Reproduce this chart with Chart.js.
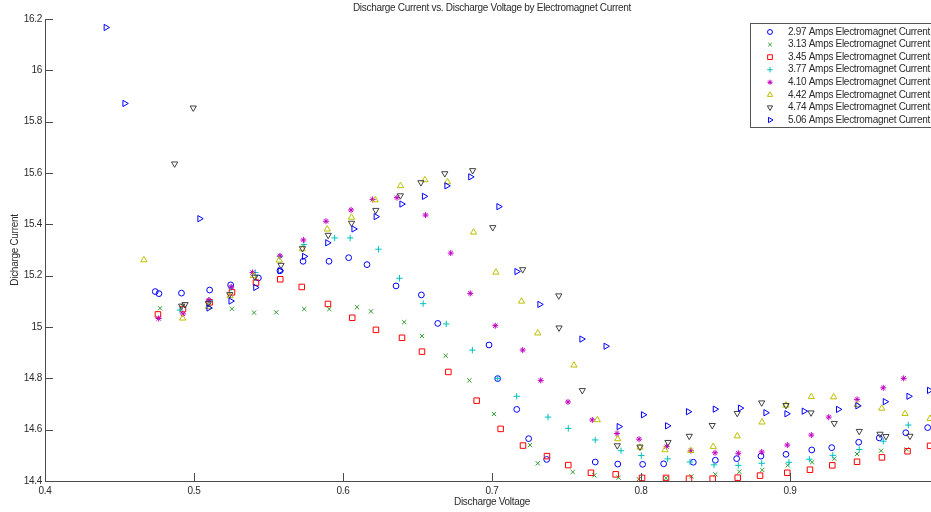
<!DOCTYPE html>
<html>
<head>
<meta charset="utf-8">
<title>Discharge Current vs. Discharge Voltage</title>
<script src="https://cdn.jsdelivr.net/npm/chart.js@4/dist/chart.umd.min.js"></script>
<style>
  html, body { margin: 0; padding: 0; overflow: hidden; background: #ffffff; }
  #wrap { position: relative; width: 960px; height: 512px; }
</style>
</head>
<body>
<div id="wrap"><canvas id="chart" width="960" height="512"></canvas></div>
<script>
// ---- data: discharge voltage (x) and discharge current (y) per electromagnet current ----
const seriesNames = [
  '2.97 Amps Electromagnet Current',
  '3.13 Amps Electromagnet Current',
  '3.45 Amps Electromagnet Current',
  '3.77 Amps Electromagnet Current',
  '4.10 Amps Electromagnet Current',
  '4.42 Amps Electromagnet Current',
  '4.74 Amps Electromagnet Current',
  '5.06 Amps Electromagnet Current'
];

const volt297 = [0.474,0.4765,0.4916,0.5105,0.5246,0.5432,0.5577,0.5732,0.5906,0.6038,0.6161,0.6356,0.6526,0.6636,0.698,0.7038,0.7166,0.7246,0.7367,0.7693,0.7844,0.8011,0.8152,0.8351,0.8499,0.8642,0.8805,0.8973,0.9146,0.928,0.9461,0.9599,0.9777,0.9924];
const curr297 = [15.138,15.13,15.132,15.144,15.164,15.191,15.219,15.256,15.256,15.27,15.243,15.16,15.125,15.014,14.93,14.799,14.679,14.565,14.484,14.474,14.466,14.465,14.467,14.473,14.481,14.487,14.497,14.504,14.521,14.53,14.551,14.568,14.588,14.608];

const volt313 = [0.4772,0.4926,0.5101,0.5255,0.5403,0.5552,0.574,0.5908,0.6094,0.6188,0.6411,0.653,0.6689,0.6848,0.7013,0.7255,0.7307,0.7542,0.7687,0.785,0.7985,0.8168,0.8338,0.8499,0.866,0.8814,0.8985,0.9148,0.9297,0.945,0.9611,0.9783];
const curr313 = [15.073,15.082,15.086,15.071,15.056,15.057,15.07,15.07,15.077,15.061,15.019,14.965,14.888,14.792,14.661,14.54,14.469,14.435,14.422,14.413,14.407,14.411,14.418,14.426,14.436,14.443,14.461,14.473,14.487,14.505,14.518,14.523];

const volt345 = [0.4758,0.4926,0.5105,0.5255,0.5416,0.5579,0.5723,0.5899,0.6062,0.6221,0.6396,0.653,0.6707,0.6897,0.7058,0.7208,0.7369,0.7512,0.7664,0.783,0.8007,0.8168,0.8322,0.8481,0.8649,0.8799,0.8982,0.9134,0.9284,0.945,0.9617,0.9789,0.994];
const curr345 = [15.049,15.07,15.096,15.135,15.173,15.186,15.156,15.09,15.036,14.989,14.958,14.904,14.825,14.713,14.603,14.538,14.497,14.462,14.432,14.426,14.412,14.412,14.409,14.409,14.413,14.421,14.432,14.444,14.461,14.475,14.492,14.516,14.537];

const volt377 = [0.4906,0.5105,0.5248,0.5411,0.5577,0.5738,0.5944,0.6048,0.6238,0.6379,0.6538,0.6693,0.6868,0.7038,0.7166,0.7376,0.7512,0.7693,0.7866,0.8002,0.8179,0.8329,0.849,0.8653,0.881,0.8993,0.913,0.9287,0.9465,0.9626,0.9794];
const curr377 = [15.066,15.103,15.152,15.212,15.274,15.321,15.347,15.347,15.303,15.19,15.091,15.012,14.91,14.8,14.73,14.649,14.605,14.56,14.518,14.499,14.486,14.474,14.463,14.461,14.469,14.473,14.485,14.5,14.523,14.555,14.618];

const volt410 = [0.4763,0.4926,0.5099,0.525,0.5393,0.5577,0.5734,0.5886,0.6054,0.6199,0.6362,0.6554,0.6723,0.6854,0.7022,0.7206,0.7327,0.751,0.7673,0.7839,0.7987,0.8172,0.8334,0.8497,0.8653,0.881,0.8982,0.9143,0.926,0.945,0.9626,0.9763];
const curr410 = [15.033,15.051,15.105,15.156,15.212,15.277,15.339,15.412,15.456,15.497,15.504,15.436,15.288,15.131,15.005,14.91,14.792,14.708,14.638,14.585,14.563,14.534,14.518,14.51,14.508,14.513,14.54,14.579,14.649,14.718,14.763,14.8];

const volt442 = [0.4664,0.4924,0.5096,0.5242,0.5398,0.5572,0.5727,0.5894,0.6057,0.6216,0.6386,0.655,0.6701,0.6876,0.7026,0.7198,0.7307,0.755,0.7707,0.7844,0.7993,0.8161,0.8334,0.8485,0.8646,0.8812,0.8973,0.9143,0.9293,0.945,0.9616,0.9772,0.994];
const curr442 = [15.261,15.034,15.079,15.121,15.199,15.26,15.304,15.381,15.427,15.495,15.55,15.573,15.565,15.369,15.213,15.1,14.976,14.851,14.638,14.564,14.531,14.521,14.518,14.534,14.575,14.629,14.695,14.728,14.727,14.697,14.683,14.662,14.643];

const volt474 = [0.487,0.4995,0.4917,0.494,0.5096,0.524,0.5409,0.5584,0.5728,0.5901,0.6057,0.622,0.6385,0.6523,0.6683,0.687,0.7005,0.7206,0.7448,0.745,0.7606,0.7841,0.7993,0.8181,0.8324,0.8478,0.8646,0.881,0.8973,0.9141,0.9297,0.9465,0.9604,0.9644,0.9805];
const curr474 = [15.636,15.854,15.082,15.088,15.092,15.127,15.195,15.241,15.306,15.358,15.405,15.455,15.512,15.563,15.598,15.61,15.388,15.224,15.122,14.997,14.753,14.538,14.533,14.551,14.575,14.617,14.664,14.705,14.695,14.666,14.625,14.594,14.583,14.574,14.575];

const volt506 = [0.4409,0.4535,0.5038,0.5099,0.5247,0.5413,0.5577,0.574,0.5896,0.6072,0.6221,0.6394,0.6545,0.6696,0.6856,0.7045,0.7166,0.732,0.7602,0.7764,0.7852,0.8015,0.8177,0.8317,0.8497,0.8666,0.8837,0.8978,0.9094,0.9324,0.9454,0.9638,0.9797,0.9935];
const curr506 = [16.167,15.871,15.422,15.074,15.101,15.154,15.219,15.275,15.328,15.382,15.43,15.479,15.509,15.55,15.585,15.469,15.216,15.088,14.953,14.925,14.612,14.658,14.615,14.67,14.68,14.684,14.666,14.662,14.672,14.679,14.693,14.709,14.73,14.753];

const xTicks = [0.4, 0.5, 0.6, 0.7, 0.8, 0.9, 1.0];
const yTicks = [14.4, 14.6, 14.8, 15.0, 15.2, 15.4, 15.6, 15.8, 16.0, 16.2];

// ---- marker styling per series ----
const volts = [volt297, volt313, volt345, volt377, volt410, volt442, volt474, volt506];
const currs = [curr297, curr313, curr345, curr377, curr410, curr442, curr474, curr506];
const colors = ['#0000ff', '#2f9a2f', '#ff0000', '#00bfbf', '#bf00bf', '#bfbf00', '#404040', '#0000ff'];
const shapes = ['circle', 'crossRot', 'rect', 'cross', 'star', 'triangle', 'triangle', 'triangle'];
const rotations = [0, 0, 0, 0, 0, 0, 180, 90];
const radii = [2.9, 3, 3.9, 3.2, 3, 3.6, 3.6, 3.6];

const FONT = '"Liberation Sans", Arial, Helvetica, sans-serif';
const TEXT = '#2b2b2b';
const AXIS = '#4a4a4a';
const SPACING = '-0.3px';

const datasets = seriesNames.map((name, k) => ({
  label: name,
  data: volts[k].map((v, i) => ({ x: v, y: currs[k][i] })),
  showLine: false,
  pointStyle: shapes[k],
  pointRotation: rotations[k],
  pointRadius: radii[k],
  pointHoverRadius: radii[k],
  pointBorderWidth: 1,
  borderColor: colors[k],
  pointBorderColor: colors[k],
  backgroundColor: 'rgba(0,0,0,0)',
  pointBackgroundColor: 'rgba(0,0,0,0)',
  order: seriesNames.length - k
}));

const fmt = v => String(+Number(v).toFixed(2));

// Tighter letter spacing for all canvas text, then title, inward ticks and boxed legend
const decorations = {
  id: 'decorations',
  beforeDraw(chart) {
    chart.ctx.letterSpacing = SPACING;
  },
  afterDraw(chart) {
    const { ctx, chartArea: ca, scales } = chart;
    ctx.save();
    ctx.letterSpacing = SPACING;

    // inward tick marks
    ctx.strokeStyle = AXIS;
    ctx.lineWidth = 1;
    ctx.beginPath();
    xTicks.forEach(v => {
      const px = Math.round(scales.x.getPixelForValue(v)) + 0.5;
      ctx.moveTo(px, ca.bottom);
      ctx.lineTo(px, ca.bottom - 8);
    });
    yTicks.forEach(v => {
      const py = Math.round(scales.y.getPixelForValue(v)) + 0.5;
      ctx.moveTo(ca.left, py);
      ctx.lineTo(ca.left + 8, py);
    });
    ctx.stroke();

    // title
    ctx.fillStyle = TEXT;
    ctx.font = '10px ' + FONT;
    ctx.textAlign = 'center';
    ctx.textBaseline = 'middle';
    ctx.fillText('Discharge Current vs. Discharge Voltage by Electromagnet Current',
      (ca.left + ca.right) / 2, 8);

    // legend box
    const bx = 750.5, by = 23.5, bw = 187, bh = 104;
    ctx.fillStyle = '#ffffff';
    ctx.fillRect(bx, by, bw, bh);
    ctx.strokeStyle = '#555555';
    ctx.strokeRect(bx, by, bw, bh);

    const rowH = 12.57;
    chart.data.datasets.forEach((ds, k) => {
      const y = 32 + k * rowH;
      ctx.save();
      ctx.strokeStyle = colors[k];
      ctx.fillStyle = 'rgba(0,0,0,0)';
      ctx.lineWidth = 1;
      Chart.helpers.drawPoint(ctx, {
        pointStyle: shapes[k],
        rotation: rotations[k],
        radius: radii[k] * 0.85,
        borderWidth: 1
      }, 770, y);
      ctx.restore();
      ctx.fillStyle = TEXT;
      ctx.font = '10px ' + FONT;
      ctx.textAlign = 'left';
      ctx.textBaseline = 'middle';
      ctx.fillText(ds.label, 788, y);
    });

    ctx.restore();
  }
};

new Chart(document.getElementById('chart'), {
  type: 'scatter',
  data: { datasets },
  options: {
    responsive: false,
    animation: false,
    devicePixelRatio: 1,
    layout: { padding: { top: 19, right: 21, left: 0, bottom: 0 } },
    plugins: {
      legend: { display: false },
      title: { display: false },
      tooltip: { enabled: false }
    },
    scales: {
      x: {
        type: 'linear',
        min: 0.4,
        max: 1.0,
        afterBuildTicks: s => { s.ticks = xTicks.map(v => ({ value: v })); },
        afterFit: s => { s.height = 31; },
        grid: { display: false, drawTicks: false },
        border: { display: true, color: AXIS, width: 1 },
        ticks: {
          color: TEXT,
          font: { family: FONT, size: 10 },
          padding: 4,
          maxRotation: 0,
          autoSkip: false,
          callback: v => fmt(v)
        },
        title: {
          display: true,
          text: 'Discharge Voltage',
          color: TEXT,
          font: { family: FONT, size: 10 },
          padding: { top: 0, bottom: 4 }
        }
      },
      y: {
        type: 'linear',
        min: 14.4,
        max: 16.2,
        afterBuildTicks: s => { s.ticks = yTicks.map(v => ({ value: v })); },
        afterFit: s => { s.width = 45; },
        grid: { display: false, drawTicks: false },
        border: { display: true, color: AXIS, width: 1 },
        ticks: {
          color: TEXT,
          font: { family: FONT, size: 10 },
          padding: 3,
          autoSkip: false,
          callback: v => fmt(v)
        },
        title: {
          display: true,
          text: 'Dicharge Current',
          color: TEXT,
          font: { family: FONT, size: 10 },
          padding: { top: 9, bottom: 0 }
        }
      }
    }
  },
  plugins: [decorations]
});
</script>
</body>
</html>
